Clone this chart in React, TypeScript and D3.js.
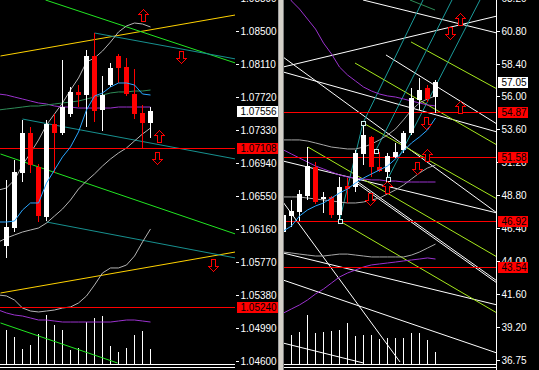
import React from 'react';
import * as d3 from 'd3';

// ---------- LEFT PANEL DATA ----------
const leftTicks = [1.0889, 1.085, 1.0811, 1.0772, 1.0733, 1.0694, 1.0655, 1.0616, 1.0577, 1.0538, 1.0499, 1.046];
const leftOpen = [1.05956, 1.06168, 1.06818, 1.07291, 1.06889, 1.06298, 1.07397, 1.07291, 1.07516, 1.07776, 1.0774, 1.08201, 1.07563, 1.07858, 1.08201, 1.08071, 1.07752, 1.07527, 1.07409];
const leftHigh = [1.06736, 1.06972, 1.07445, 1.07362, 1.06925, 1.07445, 1.07516, 1.08154, 1.07835, 1.07858, 1.08272, 1.08473, 1.07965, 1.08118, 1.08225, 1.08177, 1.08047, 1.07622, 1.07598];
const leftLow = [1.05814, 1.06121, 1.06712, 1.06818, 1.06239, 1.06251, 1.06818, 1.07267, 1.0748, 1.07598, 1.07362, 1.07421, 1.07315, 1.07835, 1.07882, 1.07728, 1.07456, 1.07108, 1.07232];
const leftClose = [1.0618, 1.0683, 1.07291, 1.06913, 1.0631, 1.07397, 1.07291, 1.07598, 1.07776, 1.0774, 1.08201, 1.07551, 1.0774, 1.08059, 1.08059, 1.07752, 1.07516, 1.07409, 1.07556];
const leftVolume = [1700, 1350, 750, 950, 1500, 2450, 1950, 1700, 700, 800, 2100, 2300, 2400, 900, 600, 800, 1450, 1650, 750];
// indicator series, index -1 .. 18
const leftBlueMA = [1.06239, 1.06239, 1.06251, 1.06381, 1.06464, 1.06464, 1.067, 1.06854, 1.07008, 1.07126, 1.07303, 1.07563, 1.07728, 1.07764, 1.07835, 1.07882, 1.07882, 1.07858, 1.07752, 1.0774];
const leftBandUpper = [1.06617, 1.06641, 1.06736, 1.06913, 1.07055, 1.07208, 1.07386, 1.07516, 1.07646, 1.07799, 1.07941, 1.0813, 1.08177, 1.0826, 1.08366, 1.08485, 1.08556, 1.08591, 1.08579, 1.08544];
const leftBandLower = [1.06003, 1.0605, 1.06086, 1.06121, 1.06145, 1.06168, 1.06227, 1.0631, 1.06393, 1.06499, 1.06629, 1.06724, 1.06807, 1.06901, 1.06984, 1.07055, 1.07114, 1.07197, 1.07279, 1.0735];
const leftGrayLow = [1.05377, 1.05365, 1.05317, 1.05223, 1.05187, 1.05176, 1.05187, 1.05199, 1.05223, 1.05235, 1.05282, 1.05365, 1.05495, 1.05637, 1.05696, 1.05696, 1.05731, 1.05837, 1.06003, 1.06157];
const leftPurpleUpper = [1.07752, 1.0774, 1.07716, 1.07693, 1.07669, 1.07646, 1.07634, 1.0761, 1.07598, 1.07598, 1.07586, 1.07586, 1.07586, 1.07586, 1.07586, 1.07598, 1.07598, 1.07598, 1.07598, 1.07598];
const leftPurpleLower = [1.05199, 1.05164, 1.0514, 1.05128, 1.05105, 1.05081, 1.05081, 1.05069, 1.05057, 1.05057, 1.05057, 1.05057, 1.05057, 1.05057, 1.05057, 1.05069, 1.05081, 1.05081, 1.05069, 1.05057];
const leftSeaGreen = [1.07563, 1.07575, 1.07586, 1.07598, 1.0761, 1.0761, 1.07622, 1.07634, 1.07646, 1.07657, 1.07669, 1.07693, 1.07716, 1.0774, 1.07764, 1.07776, 1.07776, 1.07787, 1.07787, 1.07799];
// trend lines [index0, price0, index1, price1]
const leftGreenLines = [[4.875, 1.08863, 28.625, 1.08118], [-0.75, 1.07043, 28.625, 1.06097], [-0.75, 1.05046, 13.875, 1.04573]];
const leftTealLines = [[11, 1.08473, 28.625, 1.08166], [2, 1.07456, 28.625, 1.06984], [5, 1.06239, 28.625, 1.05814]];
const leftYellowLines = [[-0.75, 1.08201, 28.625, 1.08686], [-0.75, 1.054, 28.625, 1.05885]];
const leftLevels = [1.07108, 1.0524];
const leftCurrent = 1.07556;
const leftArrows = [
  { i: 17.1, p: 1.0868, up: true }, { i: 21.75, p: 1.08189, up: false },
  { i: 19.0, p: 1.07256, up: true }, { i: 18.75, p: 1.06996, up: false },
  { i: 25.75, p: 1.05731, up: false },
];

// ---------- RIGHT PANEL DATA ----------
const rightTicks = [63.2, 60.8, 58.4, 56.0, 53.6, 51.2, 48.8, 46.4, 44.0, 41.6, 39.2, 36.75];
const rightOpen = [46.11, 47.28, 47.57, 48.74, 50.86, 48.52, 48.67, 47.35, 49.47, 49.4, 51.8, 53.04, 50.86, 50.49, 51.59, 52.1, 53.34, 55.74, 56.62, 55.96];
const rightHigh = [47.72, 48.45, 49.18, 52.31, 51.22, 49.03, 48.74, 50.13, 50.05, 52.1, 54.07, 53.12, 51.95, 51.88, 52.61, 53.48, 56.62, 57.35, 56.84, 57.2];
const rightLow = [45.89, 46.48, 46.92, 48.45, 48.16, 47.5, 47.14, 46.92, 48.23, 49.03, 51.0, 50.13, 50.49, 49.96, 51.51, 51.88, 53.19, 55.01, 55.6, 54.8];
const rightClose = [47.35, 47.65, 48.89, 50.93, 48.3, 48.67, 47.35, 49.4, 49.25, 51.88, 53.19, 50.86, 50.56, 51.66, 51.95, 53.34, 55.89, 56.47, 55.82, 57.05];
const rightVolume = [0, 1450, 1600, 2450, 1550, 1600, 1650, 1700, 2050, 1400, 1450, 1450, 1250, 1300, 1300, 1300, 1550, 1550, 1200, 600];
const rightBlueMA = [46.19, 46.55, 47.28, 47.72, 48.01, 48.23, 48.59, 48.96, 49.25, 49.69, 50.05, 50.35, 50.64, 50.93, 51.44, 52.02, 52.61, 53.05, 53.56, 54.43];
const rightBandUpper = [52.83, 52.83, 52.83, 52.75, 52.61, 52.46, 52.31, 52.24, 52.17, 52.17, 52.31, 52.53, 52.83, 53.19, 53.63, 54.29, 55.01, 55.53, 55.82, 56.04];
const rightBandMid = [48.67, 48.67, 48.67, 48.59, 48.52, 48.45, 48.38, 48.3, 48.23, 48.23, 48.3, 48.45, 48.59, 48.89, 49.18, 49.54, 49.98, 50.42, 50.78, 51.0];
const rightBandLow = [44.65, 44.58, 44.5, 44.43, 44.36, 44.36, 44.43, 44.5, 44.5, 44.43, 44.36, 44.29, 44.29, 44.29, 44.29, 44.29, 44.43, 44.65, 44.94, 45.23];
const rightPurpleTop = [64.13, 62.97, 62.38, 61.65, 60.92, 59.9, 59.1, 58.15, 57.57, 57.13, 56.69, 56.4, 56.18, 56.04, 55.96, 55.82, 55.67, 55.53, 55.38, 55.31];
const rightPurpleMid = [52.1, 51.8, 51.51, 51.22, 50.93, 50.71, 50.49, 50.27, 50.13, 50.05, 49.98, 49.91, 49.91, 49.83, 49.83, 49.76, 49.76, 49.76, 49.76, 49.76];
const rightPurpleLow = [40.2, 40.5, 40.79, 41.15, 41.59, 41.95, 42.39, 42.83, 43.12, 43.34, 43.56, 43.71, 43.78, 43.85, 43.92, 44.0, 44.07, 44.14, 44.22, 44.14];
const rightWhiteLines = [
  [9.94, 63.04, 26.69, 60.63], [-0.06, 58.15, 26.69, 61.87], [12.81, 59.03, 26.69, 53.99],
  [-0.06, 57.79, 26.69, 53.41], [-0.06, 58.88, 26.69, 47.5], [-0.06, 51.29, 26.69, 47.5],
  [8.94, 49.91, 26.69, 42.54], [8.94, 49.76, 26.69, 42.39], [-0.06, 48.3, 14.56, 36.63],
  [-0.06, 44.58, 26.69, 40.79], [-0.06, 42.61, 26.69, 37.28], [-0.06, 38.01, 9.94, 36.56],
];
const rightGreenLines = [
  [15.94, 59.98, 26.69, 56.55], [8.94, 58.44, 26.69, 52.46], [9.94, 54.07, 26.69, 48.52],
  [3.06, 52.31, 26.69, 44.29], [7.0, 46.92, 26.69, 40.2],
];
const rightTealLines = [
  [7, 46.92, 9.94, 54.07], [9.94, 54.07, 17.44, 63.04], [11.5, 52.02, 21.06, 63.04], [13, 49.96, 24.56, 63.04],
];
const rightDarkGreenLines = [[15.81, 63.04, 18.94, 62.31]];
const rightPivots = [[7, 46.92], [9.94, 54.07], [11.5, 52.02], [13, 49.96]];
const rightLevels = [54.87, 51.58, 46.92, 43.54];
const rightCurrent = 57.05;
const rightArrows = [
  { i: 22.03, p: 61.65, up: true }, { i: 20.81, p: 60.63, up: false },
  { i: 22.03, p: 55.23, up: true }, { i: 17.78, p: 54.07, up: false },
  { i: 17.94, p: 51.73, up: true }, { i: 16.73, p: 50.78, up: false },
  { i: 12.94, p: 49.4, up: true }, { i: 10.78, p: 48.52, up: false },
];

// ---------- SCALES ----------
const lx = d3.scaleLinear().domain([0, 1]).range([6.5, 14.5]);
const ly = d3.scaleLinear().domain([1.085, 1.046]).range([30.7, 360.7]);
const rx = d3.scaleLinear().domain([0, 1]).range([283.5, 291.5]);
const ry = d3.scaleLinear().domain([60.8, 36.75]).range([30.7, 360.3]);
const volY = d3.scaleLinear().domain([0, 2450]).range([364, 315]);

const FONT = "'Liberation Sans', Arial, sans-serif";

function arrowPath(cx: number, cy: number, up: boolean) {
  const s = up ? 1 : -1;
  const pts = [
    [0, -6], [5, -1], [2, -1], [2, 6], [-2, 6], [-2, -1], [-5, -1],
  ].map(([dx, dy]) => [cx + dx, cy + s * dy]);
  return 'M' + pts.map((p) => p.join(',')).join('L') + 'Z';
}

function Candles({ o, h, l, c, x, y }: any) {
  return (
    <g>
      {o.map((ov: number, i: number) => {
        const cv = c[i];
        const up = cv >= ov;
        const col = up ? '#ffffff' : '#ff0000';
        const cx = x(i);
        const top = y(Math.max(ov, cv));
        const bot = y(Math.min(ov, cv));
        return (
          <g key={i}>
            <line x1={cx} x2={cx} y1={y(h[i])} y2={y(l[i])} stroke={col} strokeWidth={1} />
            <rect x={cx - 2.5} y={top} width={5} height={Math.max(1.5, bot - top)} fill={col} />
          </g>
        );
      })}
    </g>
  );
}

function Series({ data, x, y, start, color }: any) {
  const gen = d3.line<number>().x((_, i) => x(i + start)).y((d) => y(d));
  return <path d={gen(data) || ''} fill="none" stroke={color} strokeWidth={1} />;
}

function Segs({ lines, x, y, color, width = 1 }: any) {
  return (
    <g>
      {lines.map((s: number[], k: number) => (
        <line key={k} x1={x(s[0])} y1={y(s[1])} x2={x(s[2])} y2={y(s[3])} stroke={color} strokeWidth={width} />
      ))}
    </g>
  );
}

function Arrows({ items, x, y }: any) {
  return (
    <g>
      {items.map((a: any, k: number) => (
        <path key={k} d={arrowPath(Math.round(x(a.i)) + 0.5, Math.round(y(a.p)) + 0.5, a.up)} fill="#000" stroke="#ff0000" strokeWidth={1} />
      ))}
    </g>
  );
}

function Volumes({ v, x }: any) {
  return (
    <g>
      {v.map((d: number, i: number) =>
        d > 0 ? <line key={i} x1={x(i)} x2={x(i)} y1={volY(d)} y2={364} stroke="#fff" strokeWidth={1} /> : null
      )}
    </g>
  );
}

function Axis({ ticks, y, axisX, fmt }: any) {
  return (
    <g>
      <line x1={axisX} x2={axisX} y1={0} y2={370} stroke="#fff" />
      {ticks.map((t: number, k: number) => {
        const yy = Math.round(y(t)) + 0.5;
        return (
          <g key={k}>
            <line x1={axisX} x2={axisX + 3} y1={yy} y2={yy} stroke="#fff" />
            <text x={axisX + 5} y={yy} dy="0.36em" fill="#fff" fontSize={10} fontFamily={FONT}>
              {fmt(t)}
            </text>
          </g>
        );
      })}
    </g>
  );
}

function PriceTag({ v, y, axisX, fmt, bg, fg, w }: any) {
  const yy = Math.round(y(v));
  return (
    <g>
      <rect x={axisX + 1.5} y={yy - 5} width={w} height={11} fill={bg} />
      <text x={axisX + 5} y={yy + 0.5} dy="0.36em" fill={fg} fontSize={10} fontFamily={FONT}>
        {fmt(v)}
      </text>
    </g>
  );
}

export default function App() {
  const f5 = d3.format('.5f');
  const f2 = d3.format('.2f');
  return (
    <svg width={539} height={370} style={{ position: 'absolute', left: 0, top: 0, display: 'block' }} shapeRendering="crispEdges">
      <defs>
        <clipPath id="clipL"><rect x={0} y={0} width={235} height={364} /></clipPath>
        <clipPath id="clipR"><rect x={284} y={0} width={212.5} height={364} /></clipPath>
        <clipPath id="clipLA"><rect x={236} y={0} width={42} height={370} /></clipPath>
      </defs>
      <rect x={0} y={0} width={539} height={370} fill="#000" />

      {/* LEFT PANEL */}
      <g clipPath="url(#clipL)">
        <Volumes v={leftVolume} x={lx} />
        <g shapeRendering="auto">
          <Segs lines={leftYellowLines} x={lx} y={ly} color="#ffd200" />
          <Segs lines={leftGreenLines} x={lx} y={ly} color="#22e622" />
          <Segs lines={leftTealLines} x={lx} y={ly} color="#17908f" />
          <Series data={leftBandUpper} x={lx} y={ly} start={-1} color="#b4b4b4" />
          <Series data={leftBandLower} x={lx} y={ly} start={-1} color="#b4b4b4" />
          <Series data={leftGrayLow} x={lx} y={ly} start={-1} color="#b4b4b4" />
          <Series data={leftPurpleUpper} x={lx} y={ly} start={-1} color="#9a32cd" />
          <Series data={leftPurpleLower} x={lx} y={ly} start={-1} color="#9a32cd" />
          <Series data={leftSeaGreen} x={lx} y={ly} start={-1} color="#2e8b57" />
        </g>
        {leftLevels.map((v, k) => (
          <line key={k} x1={0} x2={235} y1={Math.round(ly(v)) + 0.5} y2={Math.round(ly(v)) + 0.5} stroke="#ff0000" />
        ))}
        <Candles o={leftOpen} h={leftHigh} l={leftLow} c={leftClose} x={lx} y={ly} />
        <g shapeRendering="auto">
          <Series data={leftBlueMA} x={lx} y={ly} start={-1} color="#2aa6ff" />
        </g>
        <Arrows items={leftArrows} x={lx} y={ly} />
      </g>
      <line x1={0} x2={235} y1={364.5} y2={364.5} stroke="#fff" />
      <line x1={0} x2={235} y1={367.5} y2={367.5} stroke="#fff" />
      <g clipPath="url(#clipLA)">
        <Axis ticks={leftTicks} y={ly} axisX={235.5} fmt={f5} />
        {leftLevels.map((v, k) => (
          <PriceTag key={k} v={v} y={ly} axisX={235.5} fmt={f5} bg="#ff0000" fg="#000" w={42} />
        ))}
        <PriceTag v={leftCurrent} y={ly} axisX={235.5} fmt={f5} bg="#ffffff" fg="#000" w={42} />
      </g>

      {/* SEPARATOR */}
      <rect x={278} y={0} width={6} height={370} fill="#d4d0c8" />
      <line x1={278.5} x2={278.5} y1={0} y2={370} stroke="#a0a0a0" />
      <line x1={283.5} x2={283.5} y1={0} y2={370} stroke="#808080" />

      {/* RIGHT PANEL */}
      <g clipPath="url(#clipR)">
        <Volumes v={rightVolume} x={rx} />
        <g shapeRendering="auto">
          <Segs lines={rightWhiteLines} x={rx} y={ry} color="#ffffff" />
          <Segs lines={rightGreenLines} x={rx} y={ry} color="#a6e81c" />
          <Segs lines={rightTealLines} x={rx} y={ry} color="#1a9a9a" />
          <Segs lines={rightDarkGreenLines} x={rx} y={ry} color="#2e8b57" />
          <Series data={rightBandUpper} x={rx} y={ry} start={0} color="#a8a8a8" />
          <Series data={rightBandMid} x={rx} y={ry} start={0} color="#a8a8a8" />
          <Series data={rightBandLow} x={rx} y={ry} start={0} color="#a8a8a8" />
          <Series data={rightPurpleTop} x={rx} y={ry} start={0} color="#9a32cd" />
          <Series data={rightPurpleMid} x={rx} y={ry} start={0} color="#9a32cd" />
          <Series data={rightPurpleLow} x={rx} y={ry} start={0} color="#9a32cd" />
        </g>
        {rightLevels.map((v, k) => (
          <line key={k} x1={284} x2={497} y1={Math.round(ry(v)) + 0.5} y2={Math.round(ry(v)) + 0.5} stroke="#ff0000" />
        ))}
        <Candles o={rightOpen} h={rightHigh} l={rightLow} c={rightClose} x={rx} y={ry} />
        <g shapeRendering="auto">
          <Series data={rightBlueMA} x={rx} y={ry} start={0} color="#2aa6ff" />
        </g>
        {rightPivots.map((p, k) => (
          <rect key={k} x={Math.round(rx(p[0])) - 2} y={Math.round(ry(p[1])) - 2} width={4} height={4} fill="#000" stroke="#cfeeee" strokeWidth={1} />
        ))}
        <Arrows items={rightArrows} x={rx} y={ry} />
      </g>
      <line x1={284} x2={496} y1={364.5} y2={364.5} stroke="#fff" />
      <line x1={284} x2={496} y1={367.5} y2={367.5} stroke="#fff" />
      <Axis ticks={rightTicks} y={ry} axisX={496.5} fmt={f2} />
      {rightLevels.map((v, k) => (
        <PriceTag key={k} v={v} y={ry} axisX={496.5} fmt={f2} bg="#ff0000" fg="#000" w={30} />
      ))}
      <PriceTag v={rightCurrent} y={ry} axisX={496.5} fmt={f2} bg="#ffffff" fg="#000" w={30} />
    </svg>
  );
}
